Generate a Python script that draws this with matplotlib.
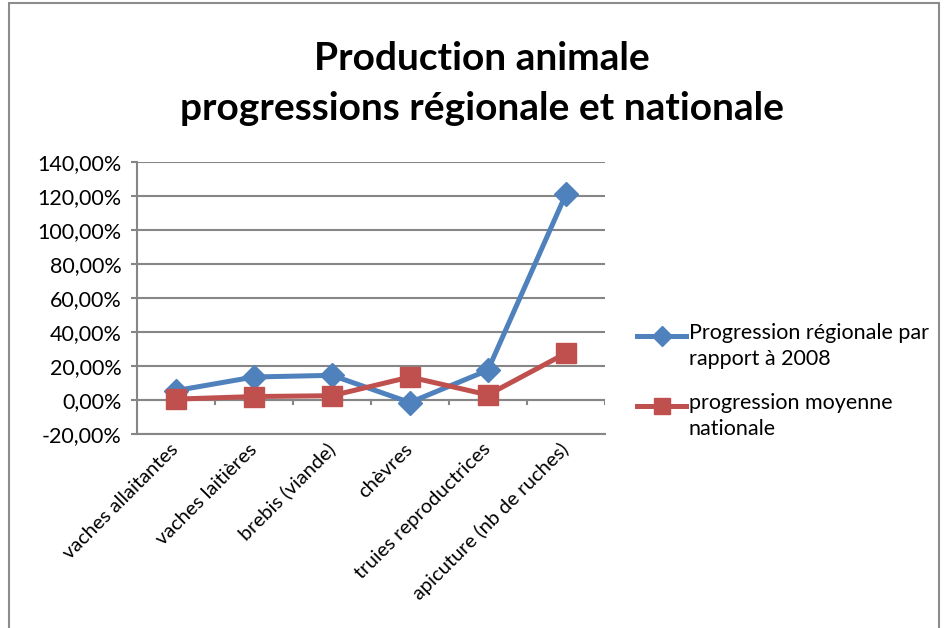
import matplotlib.pyplot as plt
from matplotlib.patches import Rectangle
from matplotlib.lines import Line2D
from matplotlib.ticker import FuncFormatter, FixedLocator

categories = ['vaches allaitantes', 'vaches laitières', 'brebis (viande)', 'chèvres',
              'truies reproductrices', 'apicuture (nb de ruches)']
regionale = [5.5, 13.5, 14.5, -1.5, 17.5, 121.0]
nationale = [0.5, 2.0, 2.5, 13.5, 3.0, 27.5]
labels = ['Progression régionale par\nrapport à 2008', 'progression moyenne\nnationale']

plt.rcParams['font.family'] = ['Lato', 'DejaVu Sans']

W, H = 948, 628
fig = plt.figure(figsize=(W / 100, H / 100), dpi=100)
fig.patches.append(Rectangle((0.01, -0.05), 0.98, 1.045, transform=fig.transFigure,
                             fill=False, edgecolor='#8c8c8c', linewidth=1.5))

ax = fig.add_axes([0.1445, 0.309, 0.4935, 0.433])
x = list(range(len(categories)))
grid_c = '#868686'
colors = ['#4F81BD', '#C0504D']
markers = [('D', 12), ('s', 14)]

ax.set_ylim(-20, 140)
ax.set_xlim(-0.5, len(categories) - 0.5)
ax.set_yticks(range(-20, 141, 20))
ax.yaxis.set_major_formatter(FuncFormatter(lambda v, p: '{:.2f}%'.format(v).replace('.', ',')))
ax.grid(axis='y', color=grid_c, linewidth=1.5)
ax.set_axisbelow(True)
for s in ['top', 'right']:
    ax.spines[s].set_visible(False)
for s in ['left', 'bottom']:
    ax.spines[s].set_color(grid_c)
    ax.spines[s].set_linewidth(1.5)

ax.axhline(0, color=grid_c, linewidth=1.5, zorder=1)
ax.xaxis.set_major_locator(FixedLocator([i + 0.5 for i in range(-1, len(categories))]))
ax.set_xticklabels([])
ax.xaxis.set_minor_locator(FixedLocator(x))
ax.set_xticklabels(categories, minor=True, rotation=45, ha='right', va='center',
                   rotation_mode='anchor', fontsize=14.5)
ax.tick_params(axis='x', which='minor', length=0, pad=9)
ax.tick_params(axis='x', which='major', length=0)
# Excel-style tick marks on the zero line
for i in range(len(categories)):
    ax.plot([i + 0.5, i + 0.5], [0, -2.2], color=grid_c, linewidth=1.5, zorder=1)
ax.tick_params(axis='y', which='major', length=4, color=grid_c, width=1.5, labelsize=15.5, pad=7)

for vals, c, (m, ms) in zip([regionale, nationale], colors, markers):
    ax.plot(x, vals, color=c, linewidth=3.6, marker=m, markersize=ms, zorder=3)

fig.text(0.508, 0.907, 'Production animale', ha='center', va='center', fontsize=28, fontweight='bold')
fig.text(0.508, 0.827, 'progressions régionale et nationale', ha='center', va='center',
         fontsize=28, fontweight='bold')

# legend, Excel style: marker aligned with the first text line
for k, (lab, c, (m, ms)) in enumerate(zip(labels, colors, markers)):
    yk = 1 - (336 + 70 * k) / H
    fig.add_artist(Line2D([637 / W, 686 / W], [yk, yk], transform=fig.transFigure,
                          color=c, linewidth=3.6))
    fig.add_artist(Line2D([661.5 / W], [yk], transform=fig.transFigure, color=c,
                          marker=m, markersize=ms * 0.85, linestyle='none'))
    fig.text(689 / W, 1 - (323 + 70 * k) / H, lab, ha='left', va='top', fontsize=15.5,
             linespacing=1.35)

fig.savefig('out.png', dpi=100)
